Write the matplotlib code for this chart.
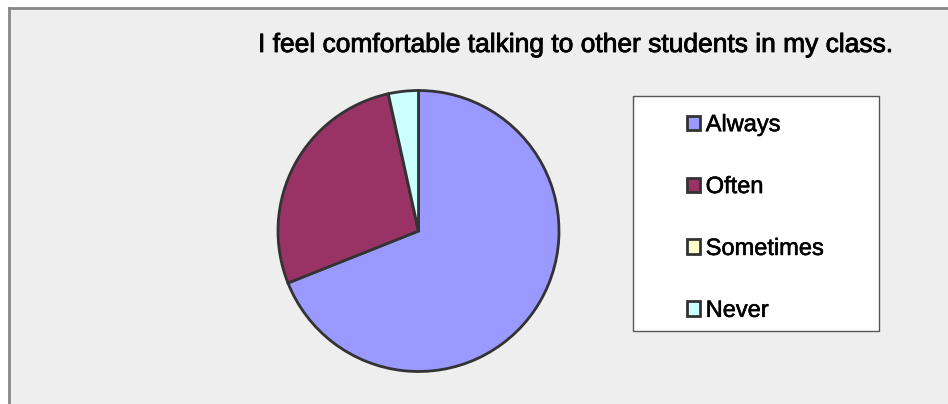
import matplotlib.pyplot as plt
import matplotlib.patheffects as pe
from matplotlib.patches import Rectangle
from matplotlib.lines import Line2D

# survey answers (counts)
labels = ["Always", "Often", "Sometimes", "Never"]
counts = [20, 8, 0, 1]
colors = ["#9999FF", "#993366", "#FFFFCC", "#CCFFFF"]
title = "I feel comfortable talking to other students in my class."

W, H = 948, 404
plt.rcParams["font.family"] = ["Liberation Sans", "DejaVu Sans"]

fig = plt.figure(figsize=(W / 100, H / 100), dpi=100)
fig.patch.set_facecolor("white")


def fx(px):
    return px / W


def fy(py):
    return 1 - py / H


# chart area background, border only on left/top
fig.patches.append(Rectangle((fx(9), 0), 1 - fx(9), fy(8), transform=fig.transFigure,
                             facecolor="#EEEEEE", edgecolor="none", zorder=-2))
fig.lines.append(Line2D([fx(9), fx(9)], [0, fy(8)], transform=fig.transFigure,
                        color="#888888", linewidth=2, zorder=-1))
fig.lines.append(Line2D([fx(9), 1], [fy(8), fy(8)], transform=fig.transFigure,
                        color="#888888", linewidth=2, zorder=-1))

# text in the reference is drawn a bit heavier than plain regular weight
heavy = [pe.withStroke(linewidth=0.6, foreground="black")]
fig.text(fx(258), fy(52), title, ha="left", va="baseline", fontsize=19,
         color="black", path_effects=heavy)

# pie
cx, cy, r = 418.5, 231, 140.5
ax = fig.add_axes([fx(cx - r), fy(cy + r), 2 * r / W, 2 * r / H])
ax.set_zorder(1)
wedges, _ = ax.pie(counts, colors=colors, startangle=90, counterclock=False,
                   wedgeprops=dict(edgecolor="#333333", linewidth=2))
for w in wedges:
    w.set_clip_on(False)
ax.set_xlim(-1, 1)
ax.set_ylim(-1, 1)
ax.set_aspect("auto")
ax.axis("off")

# legend frame
fig.patches.append(Rectangle((fx(633), fy(331)), fx(879) - fx(633), fy(96) - fy(331),
                             transform=fig.transFigure, facecolor="white",
                             edgecolor="#555555", linewidth=1, zorder=1))
leg = fig.legend(wedges, labels, loc="center left",
                 bbox_to_anchor=(fx(675), fy(218)), frameon=False, fontsize=17,
                 handlelength=0.55, handleheight=0.55, handletextpad=0.25,
                 labelspacing=1.69, borderpad=0)
for h in leg.legend_handles:
    h.set_edgecolor("#333333")
    h.set_linewidth(2)
for t in leg.get_texts():
    t.set_path_effects([pe.withStroke(linewidth=0.4, foreground="black")])
leg.set_zorder(2)

fig.savefig("out.png", dpi=100)
